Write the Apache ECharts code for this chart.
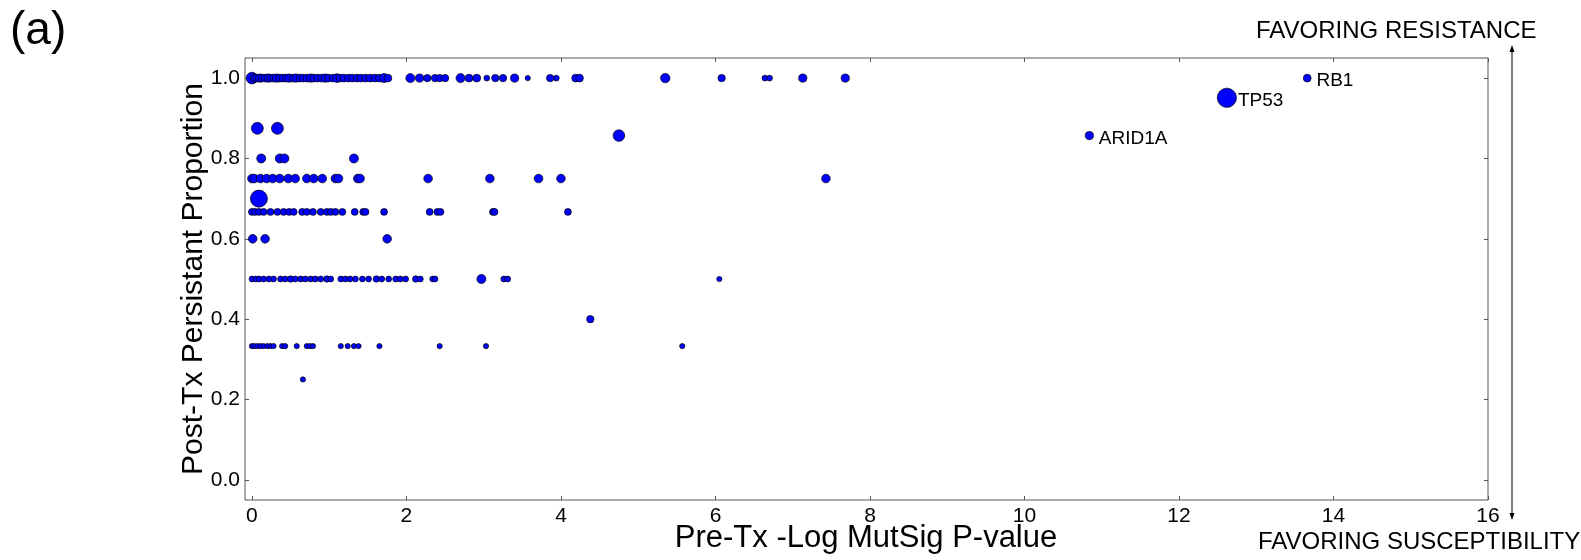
<!DOCTYPE html>
<html>
<head>
<meta charset="utf-8">
<script src="https://cdn.jsdelivr.net/npm/echarts@6/dist/echarts.min.js"></script>
<style>
  html, body { margin: 0; padding: 0; background: #ffffff; }
  #chart { width: 1581px; height: 560px; }
</style>
</head>
<body>
<div id="chart"></div>
<script>
// each row: [pre-tx -log mutsig p, samples] at one persistent proportion
const rowAt100 = [
  [0.00, 20], [0.03, 9], [0.06, 9], [0.10, 10], [0.13, 9], [0.17, 9], [0.21, 10], [0.24, 9],
  [0.28, 9], [0.32, 10], [0.36, 9], [0.40, 9], [0.44, 9], [0.48, 10], [0.53, 9], [0.57, 10],
  [0.62, 9], [0.66, 9], [0.71, 9], [0.76, 10], [0.80, 9], [0.85, 9], [0.90, 9], [0.95, 10],
  [0.99, 9], [1.05, 9], [1.10, 11], [1.14, 9], [1.19, 9], [1.25, 9], [1.30, 9], [1.36, 9],
  [1.41, 9], [1.47, 9], [1.53, 9], [1.59, 9], [1.65, 9], [1.71, 12], [1.76, 9],
  [2.05, 12], [2.17, 10], [2.27, 8], [2.37, 8], [2.43, 8], [2.50, 8], [2.70, 12], [2.81, 9],
  [2.91, 9], [3.04, 5], [3.15, 8], [3.25, 8], [3.40, 10], [3.57, 4], [3.86, 8], [3.94, 5],
  [4.19, 9], [4.24, 9], [5.35, 13], [6.08, 8], [6.64, 5], [6.70, 5], [7.13, 10], [7.68, 10]
];
const rowAt875 = [[0.07, 21], [0.33, 21]];
const rowAt857 = [[4.75, 20]];
const rowAt800 = [[0.12, 12], [0.36, 12], [0.42, 12], [1.32, 12]];
const rowAt750 = [
  [0.00, 11], [0.03, 11], [0.11, 11], [0.19, 11], [0.27, 11], [0.36, 11], [0.47, 11], [0.56, 11],
  [0.71, 11], [0.80, 11], [0.91, 11], [1.08, 11], [1.12, 11], [1.37, 11], [1.40, 11], [2.28, 11],
  [3.08, 11], [3.71, 11], [4.00, 11], [7.43, 11]
];
const rowAt700 = [[0.09, 43]];
const rowAt667 = [
  [0.00, 7], [0.04, 7], [0.09, 7], [0.15, 7], [0.24, 7], [0.33, 7], [0.41, 7], [0.48, 7],
  [0.54, 7], [0.65, 7], [0.71, 7], [0.79, 7], [0.89, 7], [0.97, 7], [1.02, 7], [1.08, 7],
  [1.17, 7], [1.33, 7], [1.44, 7], [1.47, 7], [1.71, 7], [2.30, 7], [2.40, 7], [2.44, 7],
  [3.12, 7], [3.14, 7], [4.09, 7]
];
const rowAt600 = [[0.01, 11], [0.17, 11], [1.75, 11]];
const rowAt500 = [
  [0.00, 5], [0.05, 5], [0.09, 5], [0.15, 5], [0.22, 5], [0.28, 5], [0.37, 5], [0.43, 5],
  [0.50, 6], [0.56, 5], [0.63, 5], [0.69, 5], [0.76, 5], [0.82, 5], [0.89, 5], [0.97, 6],
  [1.02, 5], [1.15, 5], [1.21, 5], [1.27, 5], [1.34, 5], [1.43, 5], [1.51, 5], [1.61, 6],
  [1.68, 5], [1.77, 5], [1.86, 5], [1.92, 5], [1.99, 5], [2.12, 6], [2.18, 5], [2.34, 5],
  [2.37, 5], [2.97, 12], [3.26, 5], [3.31, 5], [6.05, 4]
];
const rowAt400 = [[4.38, 8]];
const rowAt333 = [
  [0.00, 4], [0.03, 4], [0.07, 4], [0.11, 4], [0.15, 4], [0.20, 4], [0.24, 4], [0.28, 4],
  [0.39, 4], [0.43, 4], [0.58, 4], [0.71, 4], [0.75, 4], [0.79, 4], [1.15, 4], [1.24, 4],
  [1.32, 4], [1.38, 4], [1.65, 4], [2.43, 4], [3.03, 4], [5.57, 4]
];
const rowAt250 = [[0.66, 4]];

// the three named genes
const geneNames = ['ARID1A', 'TP53', 'RB1'];
const geneX = [10.84, 12.62, 13.66];
const geneY = [0.857, 0.951, 1.0];
const geneN = [10, 55, 9];

const xTicks = [0, 2, 4, 6, 8, 10, 12, 14, 16];
const yTicks = [0, 0.2, 0.4, 0.6, 0.8, 1.0];

const rows = [
  [1.0, rowAt100], [0.875, rowAt875], [0.857, rowAt857], [0.8, rowAt800], [0.75, rowAt750],
  [0.7, rowAt700], [0.667, rowAt667], [0.6, rowAt600], [0.5, rowAt500], [0.4, rowAt400],
  [0.333, rowAt333], [0.25, rowAt250]
];

let points = [];
rows.forEach(r => {
  r[1].forEach(p => points.push([p[0], r[0], p[1]]));
});

const font = 'Liberation Sans, Arial, sans-serif';
const sizeOf = v => 2.6 * Math.sqrt(v[2]);

let genePoints = geneNames.map((g, i) => ({
  name: g,
  value: [geneX[i], geneY[i], geneN[i]],
  label: {
    show: true,
    position: 'right',
    distance: i === 1 ? 1 : 5,
    offset: [0, 3],
    formatter: '{b}',
    color: '#000',
    fontSize: 19,
    fontFamily: font
  }
}));

const tickStyle = {color: '#555'};

let chart = echarts.init(document.getElementById('chart'));
let option = {
  backgroundColor: '#ffffff',
  animation: false,
  grid: {
    left: 245,
    right: 93,
    top: 58,
    bottom: 60,
    show: true,
    borderColor: '#555555',
    borderWidth: 1
  },
  xAxis: [{
    type: 'value',
    min: -0.09,
    max: 16,
    position: 'bottom',
    axisLine: {show: false, onZero: false},
    splitLine: {show: false},
    axisTick: {show: true, inside: true, length: 4, customValues: xTicks, lineStyle: tickStyle},
    axisLabel: {customValues: xTicks, fontSize: 21, color: '#000', fontFamily: font, margin: 6}
  }, {
    type: 'value',
    min: -0.09,
    max: 16,
    position: 'top',
    axisLine: {show: false, onZero: false},
    splitLine: {show: false},
    axisTick: {show: true, inside: true, length: 4, customValues: xTicks, lineStyle: tickStyle},
    axisLabel: {show: false, customValues: xTicks}
  }],
  yAxis: [{
    type: 'value',
    min: -0.05,
    max: 1.05,
    position: 'left',
    axisLine: {show: false, onZero: false},
    splitLine: {show: false},
    axisTick: {show: true, inside: true, length: 4, customValues: yTicks, lineStyle: tickStyle},
    axisLabel: {
      customValues: yTicks,
      fontSize: 21,
      color: '#000',
      fontFamily: font,
      margin: 5,
      formatter: v => v.toFixed(1)
    }
  }, {
    type: 'value',
    min: -0.05,
    max: 1.05,
    position: 'right',
    axisLine: {show: false, onZero: false},
    splitLine: {show: false},
    axisTick: {show: true, inside: true, length: 4, customValues: yTicks, lineStyle: tickStyle},
    axisLabel: {show: false, customValues: yTicks}
  }],
  series: [{
    type: 'scatter',
    data: points,
    symbolSize: sizeOf,
    itemStyle: {color: '#0000ff', borderColor: '#000', borderWidth: 0.7, opacity: 1}
  }, {
    type: 'scatter',
    data: genePoints,
    symbolSize: sizeOf,
    itemStyle: {color: '#0000ff', borderColor: '#000', borderWidth: 0.7, opacity: 1}
  }],
  graphic: [
    {type: 'text', left: 10, top: 8, style: {text: '(a)', font: '46px ' + font, fill: '#000'}},
    {type: 'text', x: 866, y: 538, style: {text: 'Pre-Tx -Log MutSig P-value', font: '31px ' + font, fill: '#000', align: 'center', verticalAlign: 'middle', textAlign: 'center', textVerticalAlign: 'middle'}},
    {type: 'text', x: 194, y: 279, rotation: Math.PI / 2, style: {text: 'Post-Tx Persistant Proportion', font: '30px ' + font, fill: '#000', align: 'center', verticalAlign: 'middle', textAlign: 'center', textVerticalAlign: 'middle'}},
    {type: 'text', x: 1256, y: 31, style: {text: 'FAVORING RESISTANCE', font: '24px ' + font, fill: '#000', align: 'left', verticalAlign: 'middle', textAlign: 'left', textVerticalAlign: 'middle'}},
    {type: 'text', x: 1258, y: 542, style: {text: 'FAVORING SUSCEPTIBILITY', font: '24px ' + font, fill: '#000', align: 'left', verticalAlign: 'middle', textAlign: 'left', textVerticalAlign: 'middle'}},
    {type: 'line', shape: {x1: 1512, y1: 49, x2: 1512, y2: 516}, style: {stroke: '#000', lineWidth: 1}},
    {type: 'polygon', shape: {points: [[1509.5, 52], [1514.5, 52], [1512, 45]]}, style: {fill: '#000'}},
    {type: 'polygon', shape: {points: [[1509.5, 513], [1514.5, 513], [1512, 520]]}, style: {fill: '#000'}}
  ]
};
chart.setOption(option);
</script>
</body>
</html>
